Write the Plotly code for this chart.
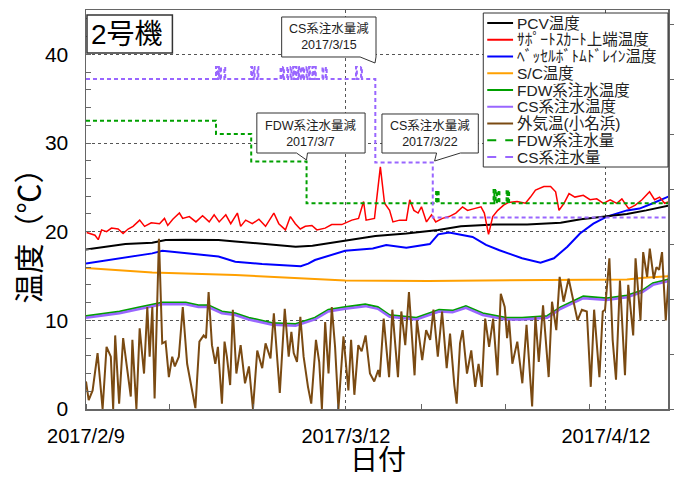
import pandas as pd
import plotly.graph_objects as go

BASE = pd.Timestamp("2017-02-09")

def to_dates(days):
    return [BASE + pd.Timedelta(days=d) for d in days]

# ---------------- data (days since 2017/2/9, values) ----------------
pcv_day = [0, 4.7, 7.9, 9.5, 11.9, 15.8, 17.8, 21.0, 25.0, 27.0, 28.9, 30.9, 34.5, 38.2, 42.0, 44.7,
           48.7, 52.6, 56.6, 59.0, 62.1, 64.5, 66.8, 69.8]
pcv_temp = [18.0, 18.6, 18.75, 19.05, 19.1, 19.05, 18.9, 18.6, 18.3, 18.4, 18.7, 19.0, 19.5, 19.8, 20.2, 20.6,
            20.8, 20.8, 21.0, 21.4, 21.7, 22.0, 22.4, 23.0]

skirt_day = [0.08, 1.07, 1.46, 1.86, 2.45, 3.04, 3.83, 4.42, 5.02, 5.61, 6.4, 6.99, 7.78, 8.77, 9.36, 9.75,
             10.35, 11.14, 11.53, 12.32, 13.11, 13.9, 14.69, 15.28, 15.88, 16.67, 17.26, 18.05, 18.44, 19.04,
             19.83, 20.62, 21.41, 22.4, 22.99, 23.78, 24.37, 24.96, 25.55, 26.15, 26.94, 27.53, 28.52, 29.3,
             30.5, 31.7, 32.5, 33.1, 33.4, 34.4, 35.1, 35.6, 36.2, 36.6, 37.4, 38.2, 38.6, 39.1, 39.6, 40.0,
             40.6, 41.2, 41.7, 42.5, 43.3, 44.1, 44.9, 45.5, 46.3, 47.1, 47.5, 48.0, 48.5, 49.1, 49.8, 50.4,
             51.4, 52.4, 53.0, 53.6, 54.6, 55.4, 56.0, 56.4, 57.0, 57.6, 58.3, 59.3, 60.1, 60.9, 61.7, 62.5,
             63.3, 63.9, 64.7, 65.5, 66.3, 67.2, 67.8, 68.4, 69.0, 69.6]
skirt_temp = [19.9, 19.6, 19.1, 20.2, 20.0, 20.4, 20.3, 19.8, 20.3, 20.6, 21.3, 20.6, 21.0, 20.9, 21.5, 20.7,
              21.4, 22.1, 21.5, 21.7, 21.1, 21.8, 21.1, 21.9, 21.1, 21.9, 20.9, 22.1, 20.6, 21.3,
              20.9, 21.4, 20.6, 22.1, 20.9, 20.2, 21.7, 20.9, 20.3, 20.6, 20.7, 20.2, 20.4, 20.8,
              20.8, 21.3, 21.5, 23.4, 21.3, 21.5, 27.3, 23.2, 22.4, 21.1, 21.3, 21.3, 23.6, 22.4, 22.1, 22.8,
              21.1, 21.9, 21.1, 21.5, 21.7, 22.1, 22.8, 22.4, 22.6, 22.8, 22.1, 19.7, 21.7, 22.4, 23.0, 23.3,
              23.4, 23.2, 23.9, 24.7, 25.1, 25.1, 24.5, 22.4, 23.2, 24.3, 23.9, 24.1, 23.6, 23.7, 23.2, 23.6,
              23.2, 23.7, 22.6, 23.0, 23.6, 24.5, 23.6, 23.9, 23.2, 23.4]

vessel_day = [0, 4.0, 7.9, 9.1, 11.9, 15.8, 17.8, 21.0, 25.6, 26.5, 27.3, 30.9, 34.2, 35.8, 38.2, 41.0, 42.0,
              43.3, 46.1, 47.7, 49.3, 52.0, 54.2, 55.8, 57.4, 58.9, 60.5, 62.1, 64.5, 66.0, 67.6, 69.8]
vessel_temp = [16.4, 17.0, 17.55, 17.85, 17.55, 17.2, 16.6, 16.35, 16.1, 16.4, 16.8, 17.85, 18.1, 18.5, 18.2,
               18.6, 19.7, 19.9, 19.4, 18.5, 17.9, 17.0, 16.5, 17.0, 18.3, 19.8, 20.9, 21.7, 22.4, 22.6, 23.2, 24.1]

sc_day = [0, 7.9, 17.8, 25.0, 30.9, 40.8, 56.6, 64.5, 66.5, 69.8]
sc_temp = [15.9, 15.4, 15.1, 14.8, 14.5, 14.45, 14.5, 14.6, 14.8, 15.0]

fdw_t_day = [0, 4.0, 6.5, 9.1, 11.9, 13.4, 14.6, 16.2, 17.8, 19.4, 22.2, 25.0, 27.3, 28.9, 30.9, 33.3, 34.8,
             36.2, 39.4, 42.1, 43.7, 45.3, 47.3, 50.1, 52.0, 55.0, 56.6, 59.3, 62.1, 64.5, 66.4, 67.6, 69.8]
fdw_temp = [10.5, 11.0, 11.5, 12.0, 12.0, 11.7, 11.7, 11.0, 10.8, 10.3, 9.7, 9.6, 10.3, 11.2, 11.5, 11.8, 11.5,
            10.6, 10.3, 11.2, 11.1, 11.6, 10.8, 10.3, 10.3, 10.5, 11.5, 12.7, 12.5, 12.8, 13.4, 14.2, 14.7]
cs_temp = [10.3, 10.8, 11.3, 11.8, 11.8, 11.5, 11.5, 10.8, 10.6, 10.1, 9.5, 9.4, 10.1, 11.0, 11.3, 11.6, 11.3,
           10.4, 10.1, 11.0, 10.9, 11.4, 10.6, 10.1, 10.1, 10.3, 11.3, 12.5, 12.3, 12.6, 13.2, 14.0, 14.5]

air_day = [0, 0.32, 0.79, 1.38, 1.98, 2.45, 2.96, 3.24, 3.48, 3.95, 4.43, 4.94, 5.34, 5.53, 6.01, 6.4, 6.92,
           7.31, 7.59, 7.91, 8.18, 8.7, 9.09, 9.49, 9.88, 10.28, 10.59, 11.07, 11.54, 12.06, 12.57, 13.04,
           13.52, 14.03, 14.31, 14.62, 15.02, 15.42, 15.73, 16.21, 16.52, 16.8, 17.19, 17.51, 17.93, 18.44,
           18.96, 19.43, 19.91, 20.42, 21.01, 21.41, 22.0, 22.4, 23.11, 23.7, 24.17, 24.49, 24.77, 25.16,
           25.56, 25.95, 26.47, 26.86, 27.42, 27.81, 28.13, 28.52, 28.92, 29.31, 29.7, 30.1, 30.7, 31.29,
           31.61, 32.0, 32.47, 32.87, 33.34, 33.86, 34.37, 34.85, 35.03, 35.5, 36.14, 36.53, 37.2, 37.6,
           38.07, 38.51, 39.18, 39.46, 40.09, 40.56, 41.04, 41.43, 41.95, 42.46, 43.01, 43.41, 43.92, 44.2,
           44.6, 44.91, 45.43, 45.94, 46.41, 46.81, 47.2, 47.6, 48.07, 48.55, 49.06, 49.46, 49.93, 50.21,
           50.45, 50.84, 51.43, 52.03, 52.53, 53.2, 53.59, 53.99, 54.5, 55.17, 55.57, 56.08, 56.48, 56.95,
           57.55, 58.14, 58.61, 59.13, 59.72, 60.19, 60.59, 61.22, 61.62, 61.89, 62.41, 62.8, 63.2, 63.67,
           64.27, 64.66, 65.25, 65.53, 66.12, 66.44, 66.91, 67.23, 67.7, 68.02, 68.34, 68.69, 69.13, 69.52]
air_temp = [3.1, 1.0, 2.1, 6.3, 0.0, 7.0, 5.9, 0.0, 8.3, 0.6, 8.0, 4.4, 1.4, 7.8, 0.0, 9.1, 4.0,
            11.5, 5.9, 11.5, 1.2, 19.2, 7.4, 7.6, 3.6, 5.9, 4.8, 5.9, 11.5, 5.1, 2.5, 0.1,
            7.6, 8.3, 8.0, 13.2, 7.2, 5.1, 7.0, 0.6, 7.6, 5.9, 2.7, 11.2, 4.0, 7.2,
            2.9, 4.8, 0.0, 6.6, 4.6, 7.4, 5.7, 10.8, 1.8, 11.3, 5.9, 8.7, 6.3, 5.3,
            10.4, 5.9, 2.5, 0.6, 7.8, 5.3, 0.0, 9.8, 4.0, 11.5, 7.0, 0.0, 8.2, 2.1,
            7.8, 1.6, 7.2, 6.5, 8.3, 4.0, 3.1, 4.4, 3.6, 10.2, 3.6, 11.2, 3.6, 11.0,
            7.2, 13.2, 3.8, 10.0, 5.5, 8.9, 7.8, 11.2, 5.9, 11.0, 4.6, 8.5, 2.7, 0.6,
            7.4, 8.9, 4.0, 6.6, 2.5, 5.1, 2.5, 10.2, 7.0, 10.2, 3.8, 13.0, 11.5, 8.0,
            10.0, 5.1, 7.6, 2.9, 9.5, 0.3, 10.4, 5.3, 11.7, 3.6, 12.1, 8.9, 14.9, 12.1,
            14.7, 11.9, 10.0, 11.2, 11.0, 2.5, 11.2, 3.6, 11.0, 11.2, 17.0, 7.8, 3.3, 14.5,
            3.8, 14.0, 8.3, 17.0, 10.0, 17.7, 14.9, 18.1, 14.7, 16.0, 15.7, 17.7, 10.0, 15.5]

# injection flow rates (secondary axis)
fdw_q_day = [0, 15.5, 19.7, 26.3, 41.75, 41.85, 41.95, 42.05, 48.6, 48.7, 48.85, 49.0, 49.2, 49.3,
             50.15, 50.25, 50.35, 50.45, 69.6]
fdw_flow = [2.62, 2.50, 2.25, 1.87, 1.99, 1.87, 1.99, 1.87, 1.99, 1.87, 1.99, 1.87, 1.99, 1.87,
            1.99, 1.87, 1.99, 1.87, 1.87]

cs_q_day = [0, 15.5, 15.6, 15.75, 15.85, 16.0, 16.1, 16.5, 16.6,
            19.7, 19.8, 20.0, 20.1, 20.45, 20.55,
            23.2, 23.3, 23.5, 23.6, 24.0, 24.1, 24.4, 24.5, 24.7, 24.8, 25.0, 25.1, 25.3, 25.4,
            25.6, 25.7, 25.9, 26.0, 26.3, 26.4, 26.6, 26.7, 27.0, 27.1, 27.3, 27.4, 28.2, 28.3, 28.6, 28.7,
            32.2, 32.3, 32.8, 32.9, 34.5, 41.35, 69.6]
cs_flow = [3.0, 3.11, 3.0, 3.11, 3.0, 3.11, 3.0, 3.11, 3.0,
           3.11, 3.0, 3.11, 3.0, 3.11, 3.0,
           3.11, 3.0, 3.11, 3.0, 3.11, 3.0, 3.11, 3.0, 3.11, 3.0, 3.11, 3.0, 3.11, 3.0,
           3.11, 3.0, 3.11, 3.0, 3.11, 3.0, 3.11, 3.0, 3.11, 3.0, 3.11, 3.0, 3.11, 3.0, 3.11, 3.0,
           3.11, 3.0, 3.11, 3.0, 2.24, 1.74, 1.74]

x_tick_dates = ["2017-02-09", "2017-03-12", "2017-04-12"]
x_tick_text = ["2017/2/9", "2017/3/12", "2017/4/12"]

names = ["PCV温度", "ｻﾎﾟｰﾄｽｶｰﾄ上端温度", "ﾍﾞｯｾﾙﾎﾞﾄﾑﾄﾞﾚｲﾝ温度", "S/C温度", "FDW系注水温度",
         "CS系注水温度", "外気温(小名浜)", "FDW系注水量", "CS系注水量"]
colors = ["#000000", "#ff0000", "#0000ff", "#ffa000", "#00a000", "#9966ff", "#7a4a12", "#00a000", "#9966ff"]
dashes = ["solid"] * 7 + ["4px,3px", "4px,3px"]

FONT = "Liberation Sans, Arial, Noto Sans CJK JP, sans-serif"

fig = go.Figure()
fig.add_trace(go.Scatter(x=to_dates(fdw_t_day), y=fdw_temp, mode="lines", name=names[4],
                         line=dict(color=colors[4], width=2)))
fig.add_trace(go.Scatter(x=to_dates(fdw_t_day), y=cs_temp, mode="lines", name=names[5],
                         line=dict(color=colors[5], width=2.5)))
fig.add_trace(go.Scatter(x=to_dates(sc_day), y=sc_temp, mode="lines", name=names[3],
                         line=dict(color=colors[3], width=2)))
fig.add_trace(go.Scatter(x=to_dates(vessel_day), y=vessel_temp, mode="lines", name=names[2],
                         line=dict(color=colors[2], width=2)))
fig.add_trace(go.Scatter(x=to_dates(pcv_day), y=pcv_temp, mode="lines", name=names[0],
                         line=dict(color=colors[0], width=2)))
fig.add_trace(go.Scatter(x=to_dates(skirt_day), y=skirt_temp, mode="lines", name=names[1],
                         line=dict(color=colors[1], width=1.5)))
fig.add_trace(go.Scatter(x=to_dates(air_day), y=air_temp, mode="lines", name=names[6],
                         line=dict(color=colors[6], width=2)))
fig.add_trace(go.Scatter(x=to_dates(fdw_q_day), y=fdw_flow, mode="lines", name=names[7], yaxis="y2",
                         line=dict(color=colors[7], width=2, dash=dashes[7], shape="hv")))
fig.add_trace(go.Scatter(x=to_dates(cs_q_day), y=cs_flow, mode="lines", name=names[8], yaxis="y2",
                         line=dict(color=colors[8], width=2, dash=dashes[8], shape="hv")))

# ---------------- layout helpers (pixel -> paper) ----------------
L, R, T, B = 86, 672, 10, 409
W, H = R - L, B - T

def px(x):
    return (x - L) / W

def py(y):
    return (B - y) / H

def path(points):
    s = "M " + " L ".join(f"{px(a):.5f},{py(b):.5f}" for a, b in points) + " Z"
    return s

shapes = []
annotations = []

# callout boxes
callouts = [
    ([(283, 17), (378, 17), (378, 57), (377, 63), (362, 57), (283, 57)], (330.5, 36.5), "CS系注水量減<br>2017/3/15"),
    ([(258, 113), (367, 113), (367, 153), (309, 153), (308, 160), (298, 153), (258, 153)], (312.5, 133), "FDW系注水量減<br>2017/3/7"),
    ([(384, 114), (481, 114), (481, 153), (463, 153), (437, 161), (439, 153), (384, 153)], (432.5, 133.5), "CS系注水量減<br>2017/3/22"),
]
for pts, (cx, cy), txt in callouts:
    shapes.append(dict(type="path", xref="paper", yref="paper", path=path(pts),
                       fillcolor="white", line=dict(color="#333333", width=1), layer="above"))
    annotations.append(dict(xref="paper", yref="paper", x=px(cx), y=py(cy), text=txt, showarrow=False,
                            xanchor="center", yanchor="middle", align="center",
                            font=dict(family=FONT, size=12.5, color="#222222")))

# unit label box
shapes.append(dict(type="rect", xref="paper", yref="paper", x0=px(87), x1=px(173), y0=py(53), y1=py(15),
                   fillcolor="white", line=dict(color="#333333", width=1.5), layer="above"))
annotations.append(dict(xref="paper", yref="paper", x=px(89), y=py(34), text="2号機", showarrow=False,
                        xanchor="left", yanchor="middle", font=dict(family=FONT, size=28, color="black")))

# legend (drawn box)
shapes.append(dict(type="rect", xref="paper", yref="paper", x0=px(486), x1=px(672), y0=py(167), y1=py(13),
                   fillcolor="white", line=dict(color="#333333", width=1), layer="above"))
for i, (nm, col, ds) in enumerate(zip(names, colors, dashes)):
    yc = 23 + 16.75 * i
    shapes.append(dict(type="line", xref="paper", yref="paper", x0=px(490), x1=px(516), y0=py(yc), y1=py(yc),
                       line=dict(color=col, width=2, dash=("dash" if ds != "solid" else "solid")), layer="above"))
    annotations.append(dict(xref="paper", yref="paper", x=px(518), y=py(yc), text=nm, showarrow=False,
                            xanchor="left", yanchor="middle", font=dict(family=FONT, size=15.5, color="#222222")))

# axis titles
annotations.append(dict(xref="paper", yref="paper", x=px(29), y=py(228), text="温度（℃）", showarrow=False,
                        textangle=-90, xanchor="center", yanchor="middle",
                        font=dict(family=FONT, size=30, color="black")))
annotations.append(dict(xref="paper", yref="paper", x=px(380), y=py(460), text="日付", showarrow=False,
                        xanchor="center", yanchor="middle", font=dict(family=FONT, size=28, color="black")))

grid_dash = "3px,3px"
fig.update_layout(
    width=675, height=480,
    margin=dict(l=L, r=675 - R, t=T, b=480 - B),
    paper_bgcolor="white", plot_bgcolor="white",
    showlegend=False,
    hovermode=False,
    font=dict(family=FONT, color="black"),
    xaxis=dict(
        type="date",
        range=[BASE, BASE + pd.Timedelta(days=69.4)],
        tickvals=x_tick_dates, ticktext=x_tick_text,
        ticks="", tickfont=dict(size=20, color="black"), ticklabelstandoff=8,
        showgrid=True, gridcolor="#555555", gridwidth=1, griddash=grid_dash,
        minor=dict(tick0="2017-02-09", dtick=10 * 86400000, ticks="inside", ticklen=5,
                   tickcolor="#666666", showgrid=False),
        showline=True, linecolor="#666666", linewidth=1.5, mirror=True, zeroline=False,
    ),
    yaxis=dict(
        range=[0, 45], tick0=0, dtick=10,
        ticks="inside", ticklen=5, tickcolor="#666666",
        tickfont=dict(size=21, color="black"), ticklabelstandoff=12,
        showgrid=True, gridcolor="#555555", gridwidth=1, griddash=grid_dash,
        minor=dict(dtick=2, ticks="inside", ticklen=5, tickcolor="#666666", showgrid=False),
        showline=True, linecolor="#666666", linewidth=1.5, zeroline=False,
    ),
    yaxis2=dict(
        overlaying="y", side="right", range=[0, H / 110], tick0=0, dtick=0.5,
        ticks="outside", ticklen=4, tickcolor="#666666", showticklabels=False,
        showgrid=False, showline=True, linecolor="#666666", linewidth=1.5, zeroline=False,
    ),
    shapes=shapes,
    annotations=annotations,
)

fig.write_html("out.html", config={"displayModeBar": False, "staticPlot": True},
               post_script="document.body.style.margin='0px';")
